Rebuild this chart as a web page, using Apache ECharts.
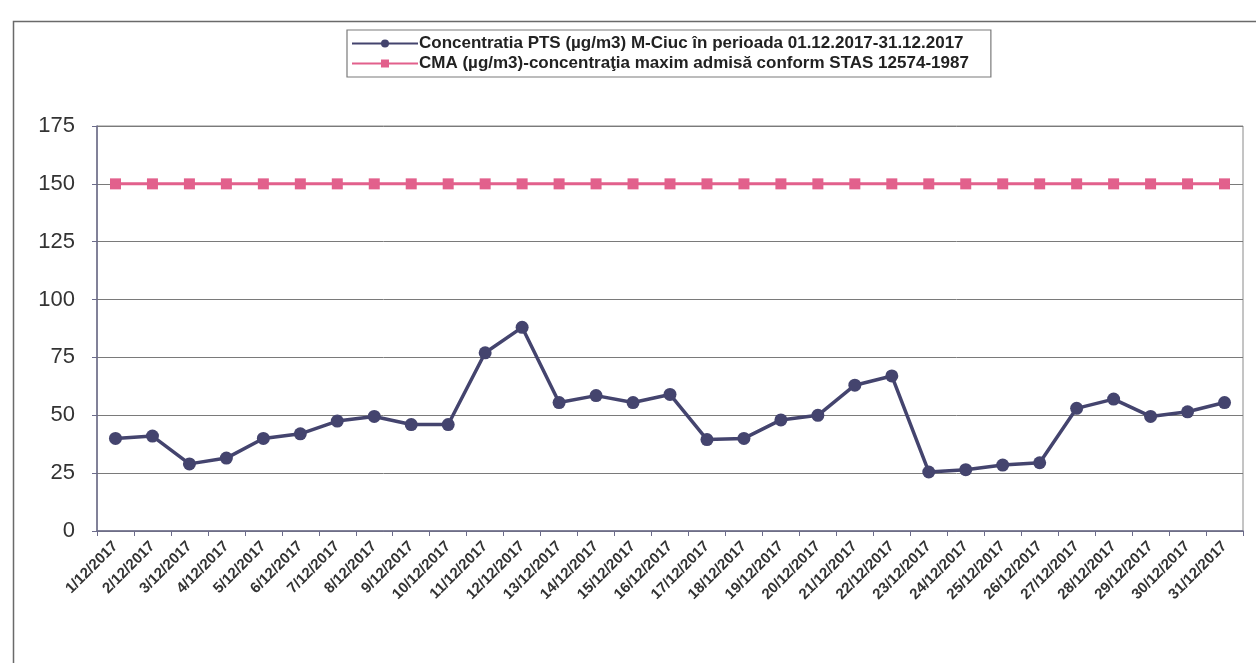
<!DOCTYPE html>
<html>
<head>
<meta charset="utf-8">
<script src="https://cdn.jsdelivr.net/npm/echarts@6/dist/echarts.min.js"></script>
<style>
html,body{margin:0;padding:0;background:#fff;}
#c{width:1256px;height:663px;}
</style>
</head>
<body>
<div id="c"></div>
<script>
const categories = ['1/12/2017','2/12/2017','3/12/2017','4/12/2017','5/12/2017','6/12/2017','7/12/2017','8/12/2017','9/12/2017','10/12/2017','11/12/2017','12/12/2017','13/12/2017','14/12/2017','15/12/2017','16/12/2017','17/12/2017','18/12/2017','19/12/2017','20/12/2017','21/12/2017','22/12/2017','23/12/2017','24/12/2017','25/12/2017','26/12/2017','27/12/2017','28/12/2017','29/12/2017','30/12/2017','31/12/2017'];
const ptsValues = [40,41,29,31.5,40,42,47.5,49.5,46,46,77,88,55.5,58.5,55.5,59,39.5,40,48,50,63,67,25.5,26.5,28.5,29.5,53,57,49.5,51.5,55.5];
const cmaValues = [150,150,150,150,150,150,150,150,150,150,150,150,150,150,150,150,150,150,150,150,150,150,150,150,150,150,150,150,150,150,150];
const seriesNames = ['Concentratia PTS (µg/m3) M-Ciuc în perioada 01.12.2017-31.12.2017','CMA (µg/m3)-concentraţia maxim admisă conform STAS 12574-1987'];
const yTicks = {min:0, max:175, interval:25};

const chart = echarts.init(document.getElementById('c'), null, {renderer:'canvas'});
chart.setOption({
  backgroundColor:'#fff',
  animation:false,
  graphic:[{
    type:'rect', left:11, top:19, shape:{width:1300, height:700},
    style:{fill:'none', stroke:'#6a6a6a', lineWidth:1.5}, z:-1
  }],
  legend:{
    orient:'vertical', left:347, top:30,
    itemWidth:66, itemHeight:10, itemGap:3,
    padding:[5,22,5,4],
    borderColor:'#7a7a7a', borderWidth:1.2,
    textStyle:{fontFamily:'Liberation Sans, Arial, sans-serif', fontSize:17, color:'#222', fontWeight:'bold', padding:[0,0,0,-4]},
    data:seriesNames
  },
  grid:{left:97, right:13, top:126, bottom:132, show:true, borderColor:'#8a8a8a', borderWidth:1, backgroundColor:'transparent'},
  xAxis:{
    type:'category', data:categories, boundaryGap:true,
    axisLine:{lineStyle:{color:'#6b6b8a', width:1.5}},
    axisTick:{show:true, length:5, lineStyle:{color:'#6b6b8a'}},
    axisLabel:{rotate:45, fontFamily:'Liberation Sans, Arial, sans-serif', fontSize:15, fontWeight:'bold', color:'#333', margin:13, interval:0}
  },
  yAxis:{
    type:'value', min:yTicks.min, max:yTicks.max, interval:yTicks.interval,
    axisLine:{show:true, lineStyle:{color:'#6b6b8a', width:1.5}},
    axisTick:{show:true, length:5, lineStyle:{color:'#6b6b8a'}},
    axisLabel:{fontFamily:'Liberation Sans, Arial, sans-serif', fontSize:22, color:'#333', margin:22},
    splitLine:{lineStyle:{color:'#7a7a7a', width:1}}
  },
  series:[
    {
      name:seriesNames[0], type:'line', data:ptsValues,
      symbol:'circle', symbolSize:13,
      lineStyle:{color:'#44446e', width:3.5},
      itemStyle:{color:'#44446e'}, z:3
    },
    {
      name:seriesNames[1], type:'line', data:cmaValues,
      symbol:'rect', symbolSize:11,
      lineStyle:{color:'#e2608c', width:3},
      itemStyle:{color:'#e2608c'}, z:2
    }
  ]
});
</script>
</body>
</html>
